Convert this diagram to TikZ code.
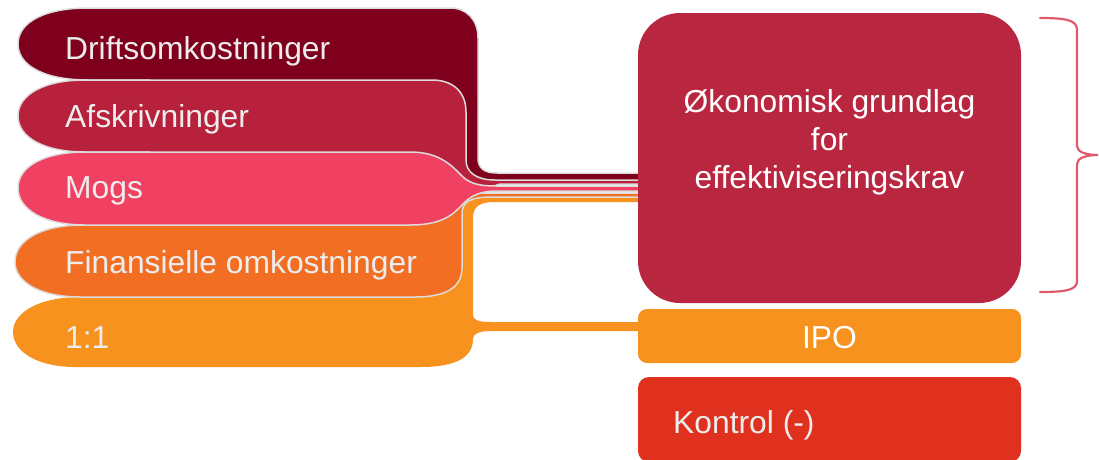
\documentclass[tikz,border=0pt]{standalone}
\usepackage{fontspec}
\setmainfont{Liberation Sans}
\definecolor{cDrift}{HTML}{7F001C}
\definecolor{cAfsk}{HTML}{B7213B}
\definecolor{cMogs}{HTML}{F04163}
\definecolor{cFin}{HTML}{F16E23}
\definecolor{cOne}{HTML}{F7921F}
\definecolor{cBig}{HTML}{B9263F}
\definecolor{cIPO}{HTML}{F7921F}
\definecolor{cKon}{HTML}{E0311F}
\definecolor{cBrace}{HTML}{E05A6E}
\definecolor{outl}{HTML}{DCDCDC}
\definecolor{txtgray}{HTML}{EDEDED}
\begin{document}
\begin{tikzpicture}[x=1pt,y=-1pt,
  blob/.style={draw=outl, line width=1.5pt, line join=round},
  lbl/.style={anchor=base west, text=txtgray, inner sep=0pt, font=\fontsize{31.8}{38}\selectfont},
  boxlbl/.style={text=white, inner sep=0pt, font=\fontsize{31.8}{38}\selectfont},
  rbox/.style={inner sep=0pt, outer sep=0pt, minimum width=383pt}]
\useasboundingbox (0,0) rectangle (1099,459);
\clip (0,0) rectangle (1099,459);

% Driftsomkostninger (bottom layer)
\path[blob, fill=cDrift] (18,44) .. controls (18,22) and (45,8) .. (88,8) -- (450,8)
  .. controls (467,8) and (478,20) .. (478,38) -- (478,158)
  .. controls (478,168) and (484,173) .. (497,173) -- (645,173) -- (645,182)
  -- (475,182) -- (455,172) -- (455,120) -- (150,120) -- (150,80) -- (88,80)
  .. controls (45,80) and (18,66) .. (18,44) -- cycle;

% 1:1
\path[fill=cOne] (13,332) .. controls (13,312) and (40,297) .. (80,297) -- (150,297)
  -- (150,280) -- (455,280) -- (455,205) .. controls (455,200) and (460,195) .. (480,195)
  -- (645,195) -- (645,202) -- (495,202) .. controls (480,202) and (473,206) .. (473,218)
  -- (473,315) .. controls (473,320) and (478,322) .. (492,322) -- (645,322) -- (645,331)
  -- (492,331) .. controls (478,331) and (473,334) .. (473,339)
  .. controls (473,358) and (455,367) .. (420,367) -- (75,367)
  .. controls (38,367) and (13,352) .. (13,332) -- cycle;

% Afskrivninger
\path[blob, fill=cAfsk] (18,116) .. controls (18,94) and (45,80) .. (85,80) -- (432,80)
  .. controls (453,80) and (466,92) .. (466,112) -- (466,160)
  .. controls (466,172) and (476,180) .. (495,180) -- (645,180) -- (645,184)
  -- (500,184) -- (485,189) -- (440,200) -- (150,200) -- (150,152) -- (85,152)
  .. controls (45,152) and (18,138) .. (18,116) -- cycle;

% Finansielle omkostninger
\path[blob, fill=cFin] (15,262) .. controls (15,240) and (42,225) .. (82,225) -- (150,225)
  -- (150,215) -- (440,215) -- (460,196) .. controls (468,193) and (475,193) .. (490,193)
  -- (645,193) -- (645,197) -- (492,197) .. controls (470,197) and (462,202) .. (462,214)
  -- (462,268) .. controls (462,288) and (445,297) .. (415,297) -- (80,297)
  .. controls (40,297) and (15,282) .. (15,262) -- cycle;

% Mogs (top layer)
\path[blob, fill=cMogs] (18,188) .. controls (18,166) and (45,152) .. (85,152) -- (410,152)
  .. controls (440,152) and (452,166) .. (462,176) .. controls (470,184) and (480,186) .. (497,186)
  -- (645,186) -- (645,191) -- (497,191) .. controls (480,191) and (470,196) .. (462,205)
  .. controls (452,216) and (440,225) .. (410,225) -- (85,225)
  .. controls (45,225) and (18,210) .. (18,188) -- cycle;

% labels
\node[lbl] (tDrift) at (65,59) {Driftsomkostninger};
\node[lbl] (tAfsk) at (65,127) {Afskrivninger};
\node[lbl] (tMogs) at (65,198) {Mogs};
\node[lbl] (tFin) at (65,273) {Finansielle omkostninger};
\node[lbl] (tOne) at (65,348) {1:1};

% right boxes
\node[rbox, fill=cBig, rounded corners=42pt, minimum height=290pt] (big) at (829.5,158) {};
\node[boxlbl, align=center, anchor=base] (bigtxt) at (829.5,188) {Økonomisk grundlag\\for\\effektiviseringskrav};
\node[rbox, fill=cIPO, rounded corners=9pt, minimum height=54pt] (ipo) at (829.5,336) {};
\node[boxlbl, anchor=base] (ipotxt) at (829.5,348) {IPO};
\node[rbox, fill=cKon, rounded corners=11pt, minimum height=85pt] (kon) at (829.5,419.5) {};
\node[lbl, text=txtgray] (kontxt) at (673,433) {Kontrol (-)};

% brace
\draw[cBrace, line width=2.2pt, line cap=round]
  (1040,18) .. controls (1066,18) and (1077,20) .. (1077,30) -- (1077,146)
  .. controls (1077,152) and (1086,155) .. (1098,155)
  .. controls (1086,155) and (1077,158) .. (1077,164) -- (1077,281)
  .. controls (1077,290) and (1066,292) .. (1040,292);
\end{tikzpicture}
\end{document}
